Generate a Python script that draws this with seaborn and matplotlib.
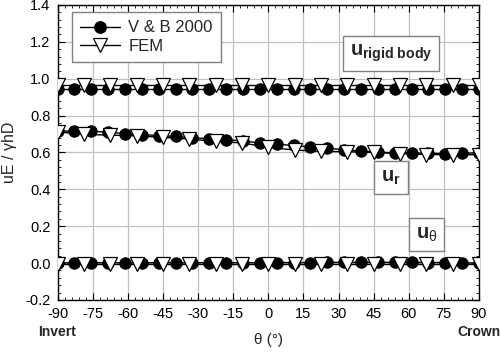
import matplotlib
matplotlib.use("Agg")
import matplotlib.pyplot as plt
import seaborn as sns
import pandas as pd
from matplotlib.lines import Line2D
from matplotlib.ticker import AutoMinorLocator
import matplotlib.transforms as mtransforms

# ---- data ----
theta_vb = [-90, -82.8, -75.6, -68.4, -61.2, -54, -46.8, -39.6, -32.4, -25.2, -18, -10.8, -3.6,
            3.6, 10.8, 18, 25.2, 32.4, 39.6, 46.8, 54, 61.2, 68.4, 75.6, 82.8, 90]
theta_fem = [-90, -78.75, -67.5, -56.25, -45, -33.75, -22.5, -11.25, 0,
             11.25, 22.5, 33.75, 45, 56.25, 67.5, 78.75, 90]

vb_rigid = [0.945] * 26
vb_ur = [0.715, 0.717, 0.715, 0.710, 0.702, 0.697, 0.692, 0.687, 0.680, 0.675, 0.670, 0.662, 0.652,
         0.645, 0.638, 0.630, 0.622, 0.616, 0.607, 0.602, 0.598, 0.598, 0.595, 0.594, 0.596, 0.598]
vb_ut = [0.000, 0.002, 0.002, 0.002, 0.002, 0.002, 0.002, 0.002, 0.002, 0.002, 0.002, 0.002, 0.002,
         0.003, 0.003, 0.003, 0.004, 0.004, 0.004, 0.004, 0.004, 0.004, 0.003, 0.003, 0.002, 0.000]

fem_rigid = [0.968] * 17
fem_ur = [0.712, 0.698, 0.694, 0.690, 0.682, 0.673, 0.660, 0.652, 0.628,
          0.613, 0.606, 0.604, 0.600, 0.594, 0.589, 0.588, 0.588]
fem_ut = [-0.005] * 17

xticks = [-90, -75, -60, -45, -30, -15, 0, 15, 30, 45, 60, 75, 90]
yticks = [-0.2, 0.0, 0.2, 0.4, 0.6, 0.8, 1.0, 1.2, 1.4]

# ---- style ----
sns.set_style("ticks")
plt.rcParams['font.family'] = ['Liberation Sans', 'DejaVu Sans']
plt.rcParams['mathtext.fontset'] = 'custom'
plt.rcParams['mathtext.rm'] = 'Liberation Sans'
plt.rcParams['mathtext.bf'] = 'Liberation Sans:bold'
plt.rcParams['mathtext.it'] = 'Liberation Sans:italic'

fig = plt.figure(figsize=(5.0, 3.55), dpi=100)
ax = fig.add_axes([0.115, 0.155, 0.843, 0.831])

vb_kw = dict(color='black', marker='o', markersize=8.2, markerfacecolor='black',
             markeredgecolor='black', linewidth=1.0, zorder=3)
fem_kw = dict(color='black', marker='v', markersize=10.5, markerfacecolor='white',
              markeredgecolor='black', markeredgewidth=0.9, linewidth=1.0, zorder=4)

for ys in (vb_rigid, vb_ur, vb_ut):
    df = pd.DataFrame({'theta': theta_vb, 'u': ys})
    sns.lineplot(data=df, x='theta', y='u', ax=ax, legend=False, **vb_kw)
for ys in (fem_rigid, fem_ur, fem_ut):
    df = pd.DataFrame({'theta': theta_fem, 'u': ys})
    sns.lineplot(data=df, x='theta', y='u', ax=ax, legend=False, **fem_kw)

ax.set_xlim(-90, 90)
ax.set_ylim(-0.2, 1.4)
ax.set_xticks(xticks)
ax.set_xticklabels([str(t) for t in xticks])
ax.set_yticks(yticks)
ax.set_yticklabels([f"{t:.1f}" for t in yticks])
ax.xaxis.set_minor_locator(AutoMinorLocator(5))
ax.yaxis.set_minor_locator(AutoMinorLocator(5))
ax.tick_params(which='both', direction='in', top=True, right=True, colors='black',
               labelsize=10.5)
ax.tick_params(which='major', length=5, width=0.8, pad=5)
ax.tick_params(which='minor', length=2.5, width=0.6)
ax.grid(True, which='major', color='#c0c0c0', linewidth=0.9)
ax.set_axisbelow(True)
for s in ax.spines.values():
    s.set_color('black')
    s.set_linewidth(1.0)

ax.set_xlabel('θ (°)', fontsize=11, labelpad=9)
ax.set_ylabel('uE / γhD', fontsize=11.5, labelpad=6)

trans = mtransforms.blended_transform_factory(ax.transData, ax.transAxes)
ax.text(-90, -0.108, 'Invert', transform=trans, ha='center', va='center',
        fontsize=10, fontweight='bold')
ax.text(90, -0.108, 'Crown', transform=trans, ha='center', va='center',
        fontsize=10, fontweight='bold')

box = dict(boxstyle='square,pad=0.35', facecolor='white', edgecolor='#808080', linewidth=1.0)
ax.text(52.4, 1.136, r'$\mathbf{u}_{\mathbf{rigid\ body}}$', ha='center', va='center',
        fontsize=14.5, bbox=box, zorder=6)
ax.text(52.4, 0.464, r'$\mathbf{u}_{\mathbf{r}}$', ha='center', va='center',
        fontsize=14.5, bbox=box, zorder=6)
ax.text(67.6, 0.155, r'$\mathbf{u}_{\mathrm{θ}}$', ha='center', va='center',
        fontsize=14.5, bbox=box, zorder=6)

handles = [Line2D([], [], **{k: v for k, v in vb_kw.items() if k != 'zorder'}),
           Line2D([], [], **{k: v for k, v in fem_kw.items() if k != 'zorder'})]
leg = ax.legend(handles, ['V & B 2000', 'FEM'], loc='upper left',
                bbox_to_anchor=(0.034, 0.976), frameon=True, fancybox=False,
                edgecolor='#808080', framealpha=1, fontsize=12, handlelength=2.4,
                borderpad=0.5, labelspacing=0.2, handletextpad=0.5, borderaxespad=0)
leg.get_frame().set_linewidth(1.0)
leg.set_zorder(7)

fig.savefig('out.png', dpi=100)
